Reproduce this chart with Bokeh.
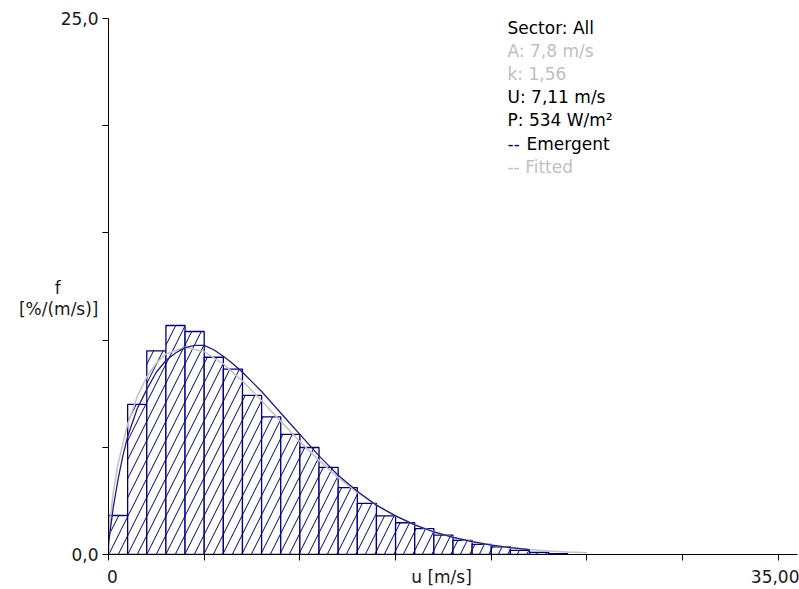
from bokeh.plotting import figure
from bokeh.models import FixedTicker, Label, LinearAxis
from bokeh.embed import file_html
from bokeh.resources import INLINE

# ---------------- data ----------------
bin_left = [0, 1, 2, 3, 4, 5, 6, 7, 8, 9, 10, 11, 12, 13, 14, 15, 16, 17, 18, 19, 20, 21, 22, 23]
bin_freq = [1.82, 7.0, 9.5, 10.68, 10.4, 9.2, 8.65, 7.42, 6.42, 5.6, 4.99, 4.06, 3.12, 2.38, 1.8, 1.48,
            1.21, 0.9, 0.66, 0.47, 0.36, 0.19, 0.1, 0.04]

emergent_u = [0, 0.25, 0.5, 0.75, 1, 1.5, 2, 2.5, 3, 3.5, 4, 4.5, 5, 5.5, 6, 6.5, 7, 7.5, 8, 8.5, 9,
              9.5, 10, 11, 12, 13, 14, 15, 16, 17, 18, 19, 20, 21, 22]
emergent_f = [0.5, 2.2, 3.5, 4.6, 5.5, 6.8, 7.7, 8.5, 9.05, 9.4, 9.65, 9.75, 9.75, 9.55, 9.25, 8.9, 8.5,
              8.05, 7.6, 7.1, 6.6, 6.1, 5.6, 4.6, 3.7, 2.95, 2.3, 1.8, 1.38, 1.05, 0.8, 0.6, 0.44, 0.32, 0.23]

fitted_u = [0, 0.1, 0.25, 0.5, 1, 1.5, 2, 2.5, 3, 4, 5, 6, 7, 8, 9, 10, 11, 12, 13, 14, 15, 16, 17, 18,
            19, 20, 21, 22, 23, 24, 25]
fitted_f = [0, 1.74, 2.9, 4.24, 6.08, 7.36, 8.28, 8.93, 9.35, 9.67, 9.46, 8.89, 8.09, 7.17, 6.21, 5.27,
            4.39, 3.59, 2.9, 2.3, 1.8, 1.39, 1.06, 0.8, 0.6, 0.44, 0.32, 0.23, 0.165, 0.12, 0.08]

x_ticks = [0, 5, 10, 15, 20, 25, 30, 35]
x_tick_labels = {0: "0", 35: "35,00"}
y_ticks = [0, 5, 10, 15, 20, 25]
y_tick_labels = {0: "0,0", 25: "25,0"}

info_lines = ["Sector: All", "A: 7,8 m/s", "k: 1,56", "U: 7,11 m/s", "P: 534 W/m²"]
info_colors = ["#000000", "#c0c0c0", "#c0c0c0", "#000000", "#000000"]
emergent_name = "Emergent"
fitted_name = "Fitted"
x_title = "u [m/s]"
y_title_1 = "f"
y_title_2 = "[%/(m/s)]"

# ---------------- figure ----------------
W, H = 799, 589
LEFT, TOP, BOTTOM, RIGHT = 108, 18, 35, 2
X0, X1, Y0, Y1 = 0, 36, 0, 25

p = figure(width=W, height=H, x_range=(X0, X1), y_range=(Y0, Y1),
           output_backend="svg", toolbar_location=None, x_axis_location=None, y_axis_location=None,
           min_border_left=LEFT, min_border_top=TOP, min_border_bottom=BOTTOM, min_border_right=RIGHT)
p.outline_line_color = None
p.grid.visible = False
p.background_fill_color = "white"
p.border_fill_color = "white"

FONT = "DejaVu Sans"
FS = "17px"
TXT = "#1a1a1a"

frame_w = W - LEFT - RIGHT
frame_h = H - TOP - BOTTOM


def px_u(px):
    return X0 + (px - LEFT) / frame_w * (X1 - X0)


def px_f(py):
    return Y0 + (H - BOTTOM - py) / frame_h * (Y1 - Y0)


NAVY = "#000080"
bin_right = [b + 1 for b in bin_left]
p.quad(left=bin_left, right=bin_right, bottom=0, top=bin_freq,
       fill_color="white", line_color=NAVY, line_width=1.3,
       hatch_pattern="/", hatch_color=NAVY, hatch_scale=19, hatch_weight=1)

p.line(fitted_u, fitted_f, line_color="#c4c4c4", line_width=1.6)
p.line(emergent_u, emergent_f, line_color="#1c1c8c", line_width=1.3)

# ---- axes: inner axis carries line + tick marks, outer axis carries texts ----
x_zero_pos = round(px_u(112), 2)
x_title_pos = round(px_u(441), 2)
y_title1_pos = round(px_f(287), 2)
y_title2_pos = round(px_f(309), 2)

xa_marks = LinearAxis(ticker=FixedTicker(ticks=x_ticks))
xa_marks.major_label_overrides = {t: "" for t in x_ticks}
xa_marks.major_label_text_font_size = "0px"
xa_marks.major_label_standoff = 0
xa_marks.major_tick_out = 6
xa_marks.major_tick_in = 0
xa_marks.minor_tick_line_color = None
xa_marks.axis_line_color = "black"
xa_marks.major_tick_line_color = "black"

x_text_ticks = [x_zero_pos, x_title_pos, 35]
xa_text = LinearAxis(ticker=FixedTicker(ticks=x_text_ticks))
xa_text.major_label_overrides = {x_zero_pos: x_tick_labels[0], x_title_pos: x_title, 35: x_tick_labels[35]}
xa_text.major_label_text_font = FONT
xa_text.major_label_text_font_size = FS
xa_text.major_label_text_color = TXT
xa_text.major_label_standoff = 6
xa_text.major_tick_out = 0
xa_text.major_tick_in = 0
xa_text.major_tick_line_color = None
xa_text.minor_tick_line_color = None
xa_text.axis_line_color = None

p.add_layout(xa_marks, "below")
p.add_layout(xa_text, "below")

ya_marks = LinearAxis(ticker=FixedTicker(ticks=y_ticks))
ya_marks.major_label_overrides = {t: "" for t in y_ticks}
ya_marks.major_label_text_font_size = "0px"
ya_marks.major_label_standoff = 0
ya_marks.major_tick_out = 6
ya_marks.major_tick_in = 0
ya_marks.minor_tick_line_color = None
ya_marks.axis_line_color = "black"
ya_marks.major_tick_line_color = "black"

NB = "\u00a0"
y_text_ticks = [0, y_title2_pos, y_title1_pos, 25]
ya_text = LinearAxis(ticker=FixedTicker(ticks=y_text_ticks))
ya_text.major_label_overrides = {0: y_tick_labels[0], y_title2_pos: y_title_2,
                                 y_title1_pos: y_title_1 + NB * 7, 25: y_tick_labels[25]}
ya_text.major_label_text_font = FONT
ya_text.major_label_text_font_size = FS
ya_text.major_label_text_color = TXT
ya_text.major_label_standoff = 4
ya_text.major_tick_out = 0
ya_text.major_tick_in = 0
ya_text.major_tick_line_color = None
ya_text.minor_tick_line_color = None
ya_text.axis_line_color = None

p.add_layout(ya_marks, "left")
p.add_layout(ya_text, "left")

# info block
info_x = px_u(507)
line0 = 27
step = 23.2
for i, (t, c) in enumerate(zip(info_lines, info_colors)):
    p.add_layout(Label(x=info_x, y=px_f(line0 + i * step), text=t, text_align="left",
                       text_baseline="middle", text_font=FONT, text_font_size=FS, text_color=c))
k = len(info_lines)
p.add_layout(Label(x=info_x, y=px_f(line0 + k * step), text="--", text_align="left",
                   text_baseline="middle", text_font=FONT, text_font_size=FS, text_color=NAVY))
p.add_layout(Label(x=info_x, x_offset=19, y=px_f(line0 + k * step), text=emergent_name, text_align="left",
                   text_baseline="middle", text_font=FONT, text_font_size=FS, text_color="#000000"))
p.add_layout(Label(x=info_x, y=px_f(line0 + (k + 1) * step), text="-- " + fitted_name, text_align="left",
                   text_baseline="middle", text_font=FONT, text_font_size=FS, text_color="#c0c0c0"))

open("out.html", "w").write(file_html(p, INLINE))
